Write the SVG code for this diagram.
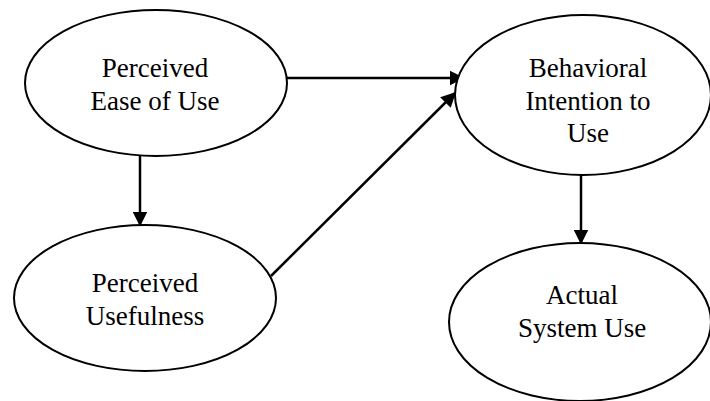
<svg xmlns="http://www.w3.org/2000/svg" width="710" height="401" viewBox="0 0 710 401">
<style>
.node{fill:#fff;stroke:#000;stroke-width:2}
.lbl{font-family:"Liberation Serif","DejaVu Serif",serif;font-size:27px;fill:#000;text-anchor:middle}
.edge{stroke:#000;stroke-width:2.5;fill:none;marker-end:url(#ah)}
</style>
<defs>
<marker id="ah" viewBox="0 0 10 10" refX="9" refY="5" markerWidth="6" markerHeight="6" markerUnits="strokeWidth" orient="auto">
<path d="M0,0 L10,5 L0,10 z" fill="#000"/>
</marker>
</defs>
<rect width="710" height="401" fill="#fff"/>
<g id="connectors">
<line class="edge" x1="287" y1="78" x2="463" y2="78"/>
<line class="edge" x1="271" y1="276" x2="455" y2="93"/>
<line class="edge" x1="140" y1="156" x2="140" y2="225"/>
<line class="edge" x1="581" y1="175" x2="581" y2="243"/>
</g>
<g id="peou">
<ellipse class="node" cx="156" cy="83" rx="131" ry="73"/>
<text class="lbl" x="155" y="77">Perceived</text>
<text class="lbl" x="155" y="110">Ease of Use</text>
</g>
<g id="pu">
<ellipse class="node" cx="145" cy="298" rx="131" ry="73"/>
<text class="lbl" x="145" y="292">Perceived</text>
<text class="lbl" x="145" y="325">Usefulness</text>
</g>
<g id="bi">
<ellipse class="node" cx="583" cy="95" rx="128" ry="80"/>
<text class="lbl" x="588" y="77">Behavioral</text>
<text class="lbl" x="588" y="110">Intention to</text>
<text class="lbl" x="588" y="142">Use</text>
</g>
<g id="asu">
<ellipse class="node" cx="580" cy="322" rx="131" ry="79"/>
<text class="lbl" x="582" y="304">Actual</text>
<text class="lbl" x="582" y="337">System Use</text>
</g>
</svg>
